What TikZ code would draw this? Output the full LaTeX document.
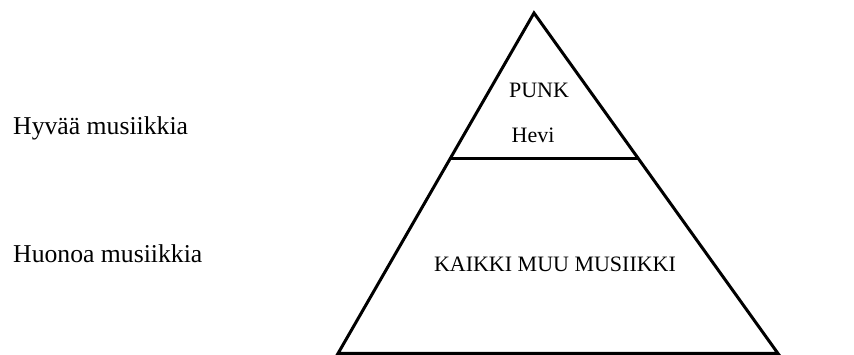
\documentclass[tikz,border=0pt]{standalone}
\usepackage{fontspec}
\setmainfont{Liberation Serif}
\usetikzlibrary{calc}
\tikzset{
	side/.style={font=\fontsize{25.7}{30}\selectfont,anchor=base west,inner sep=0pt},
	layer/.style={font=\fontsize{22}{26}\selectfont,anchor=base,inner sep=0pt},
	edge/.style={line width=3pt,line join=miter}
}
\begin{document}
\begin{tikzpicture}[x=1pt,y=1pt]
	\useasboundingbox (0,0) rectangle (854,355);
	\coordinate (top) at (534,342);
	\coordinate (left) at (338,1.5);
	\coordinate (right) at (778,1.5);
	\coordinate (midL) at ($(top)!0.426!(left)$);
	\coordinate (midR) at ($(top)!0.426!(right)$);
	\draw[edge] (left)--(top)--(right)--cycle;
	\draw[edge] (midL)--(midR);
	\node[layer] (punk) at (539,257) {PUNK};
	\node[layer] (hevi) at (533,212) {Hevi};
	\node[layer] (muu) at (555,83) {KAIKKI MUU MUSIIKKI};
	\node[side] (hyva) at (13,220) {Hyvää musiikkia};
	\node[side] (huono) at (13,92) {Huonoa musiikkia};
\end{tikzpicture}
\end{document}
